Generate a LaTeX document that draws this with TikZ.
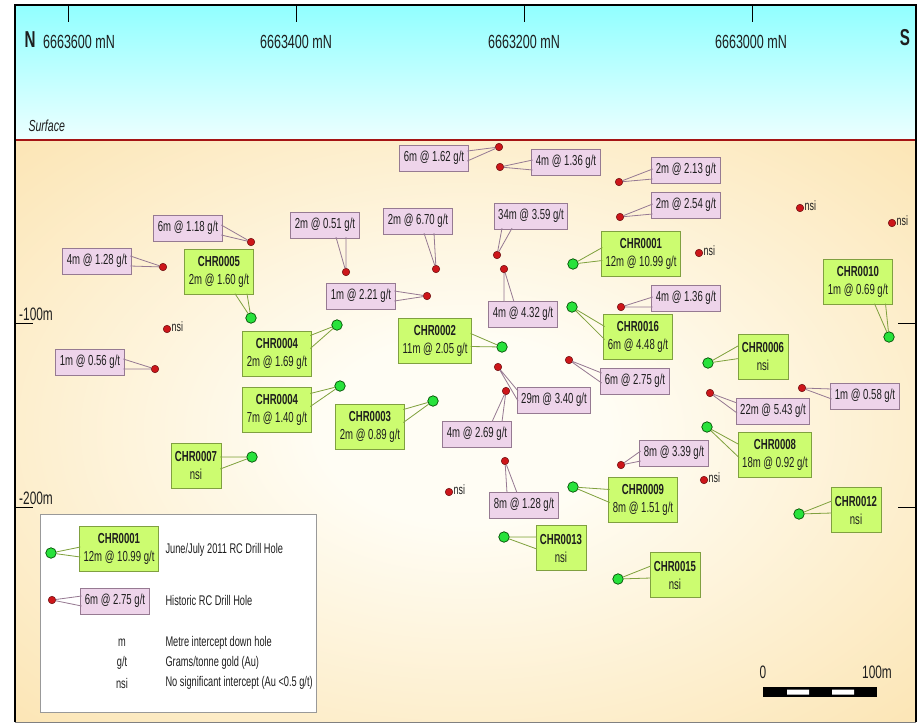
\documentclass[tikz,border=0pt]{standalone}
\usepackage{fontspec}
\setmainfont{Liberation Sans}[FakeStretch=0.66]
\usetikzlibrary{calc}

\definecolor{skytop}{RGB}{145,255,255}
\definecolor{skylow}{RGB}{236,255,255}
\definecolor{groundin}{RGB}{255,253,244}
\definecolor{groundout}{RGB}{249,210,130}
\definecolor{surfred}{RGB}{165,20,20}
\definecolor{histfill}{RGB}{238,212,234}
\definecolor{histedge}{RGB}{150,122,146}
\definecolor{newfill}{RGB}{204,252,112}
\definecolor{newedge}{RGB}{128,160,64}
\definecolor{reddot}{RGB}{205,22,26}
\definecolor{greendot}{RGB}{40,226,60}
\definecolor{txt}{RGB}{30,30,30}

\pgfdeclareradialshading{groundglow}{\pgfpoint{0bp}{0bp}}{color(0bp)=(groundin); color(8bp)=(groundin); color(58bp)=(groundout); color(80bp)=(groundout)}

% wedge of a callout: fill, edge, box anchor, shift, half width, hole
\newcommand\callout[6]{%
  \fill[#1] ($(#3)+(#4)+(#5)$) -- (#6) -- ($(#3)+(#4)-(#5)$) -- cycle;
  \draw[#2, line width=0.8pt] ($(#3)+(#4)+(#5)$) -- (#6) -- ($(#3)+(#4)-(#5)$);}

\tikzset{
  hole/.style={circle, draw=reddot!50!black, fill=reddot, inner sep=0pt, minimum size=7.5pt, line width=0.5pt},
  newhole/.style={circle, draw=green!30!black, fill=greendot, inner sep=0pt, minimum size=10.5pt, line width=0.7pt},
  histbox/.style={draw=histedge, fill=histfill, line width=0.8pt, inner xsep=4pt, inner ysep=0pt, minimum height=26pt, text=txt, font=\fontsize{14.5}{16}\selectfont},
  newbox/.style={draw=newedge, fill=newfill, line width=0.8pt, inner xsep=4pt, inner ysep=0pt, minimum height=45pt, align=center, text=txt, font=\fontsize{14.5}{18}\selectfont},
  nsilab/.style={anchor=west, inner sep=0.5pt, text=txt, font=\fontsize{13.5}{13}\selectfont},
  hdr/.style={text=txt, font=\fontsize{19}{19}\selectfont},
  legtext/.style={anchor=west, text=txt, font=\fontsize{14}{16}\selectfont}
}

\begin{document}
\begin{tikzpicture}[x=1pt, y=-1pt]
\useasboundingbox (0,0) rectangle (918,726);
\fill[white] (0,0) rectangle (918,726);

% sky and ground
\shade[top color=skytop, bottom color=skylow] (15,5) rectangle (916,140);
\shade[shading=groundglow] (15,140) rectangle (916,722);
\draw[surfred, line width=2pt] (15,140) -- (916,140);
\draw[gray, line width=1pt] (15,722) -- (916,722);
\draw[line width=2.5pt] (15,722) -- (15,5) -- (916,5) -- (916,722);

% northings
\foreach \x in {68,296,524,752}
  \draw[line width=0.7pt] (\x,5) -- (\x,22);
\node[hdr] (n6600) at (79,42) {6663600 mN};
\node[hdr] (n6400) at (296,42) {6663400 mN};
\node[hdr] (n6200) at (524,42) {6663200 mN};
\node[hdr] (n6000) at (751,42) {6663000 mN};
\node[text=txt, font=\fontsize{23}{23}\selectfont\bfseries] (north) at (30,40) {N};
\node[text=txt, font=\fontsize{23}{23}\selectfont\bfseries] (south) at (905,38) {S};
\node[anchor=base west, text=txt, font=\fontsize{16}{16}\selectfont\itshape] (surf) at (25,131) {Surface};

% depth ticks
\draw[line width=1pt] (15,323) -- (33,323) (15,507) -- (33,507);
\draw[line width=1pt] (898,323) -- (916,323) (898,507) -- (916,507);
\node[anchor=base west, inner sep=0pt, text=txt, font=\fontsize{18}{18}\selectfont] (d100) at (19,320) {-100m};
\node[anchor=base west, inner sep=0pt, text=txt, font=\fontsize{18}{18}\selectfont] (d200) at (19,504) {-200m};

% historic holes
\node[hole] (h1) at (499,147) {};
\node[hole] (h2) at (500,167) {};
\node[hole] (h3) at (619,182) {};
\node[hole] (h4) at (620,217) {};
\node[hole] (h5) at (251,242) {};
\node[hole] (h6) at (163,267) {};
\node[hole] (h7) at (346,272) {};
\node[hole] (h8) at (436,269) {};
\node[hole] (h9) at (497,255) {};
\node[hole] (h10) at (427,296) {};
\node[hole] (h11) at (504,269) {};
\node[hole] (h12) at (621,307) {};
\node[hole] (h13) at (155,369) {};
\node[hole] (h14) at (569,360) {};
\node[hole] (h15) at (498,367) {};
\node[hole] (h16) at (710,393) {};
\node[hole] (h17) at (802,388) {};
\node[hole] (h18) at (506,391) {};
\node[hole] (h19) at (621,465) {};
\node[hole] (h20) at (505,461) {};

\node[histbox] (p1) at (434,158) {6m @ 1.62 g/t};
\node[histbox] (p2) at (566,162) {4m @ 1.36 g/t};
\node[histbox] (p3) at (686,170) {2m @ 2.13 g/t};
\node[histbox] (p4) at (686,205) {2m @ 2.54 g/t};
\node[histbox] (p5) at (188,228) {6m @ 1.18 g/t};
\node[histbox] (p6) at (97,261) {4m @ 1.28 g/t};
\node[histbox] (p7) at (325,225) {2m @ 0.51 g/t};
\node[histbox] (p8) at (418,221) {2m @ 6.70 g/t};
\node[histbox] (p9) at (531,216) {34m @ 3.59 g/t};
\node[histbox] (p10) at (361,296) {1m @ 2.21 g/t};
\node[histbox] (p11) at (523,314) {4m @ 4.32 g/t};
\node[histbox] (p12) at (686,298) {4m @ 1.36 g/t};
\node[histbox] (p13) at (90,362) {1m @ 0.56 g/t};
\node[histbox] (p14) at (635,381) {6m @ 2.75 g/t};
\node[histbox] (p15) at (554,400) {29m @ 3.40 g/t};
\node[histbox] (p16) at (773,411) {22m @ 5.43 g/t};
\node[histbox] (p17) at (865,396) {1m @ 0.58 g/t};
\node[histbox] (p18) at (477,434) {4m @ 2.69 g/t};
\node[histbox] (p19) at (674,453) {8m @ 3.39 g/t};
\node[histbox] (p20) at (524,505) {8m @ 1.28 g/t};

% historic holes without intercept
\node[hole] (hn1) at (167,329) {};
\node[hole] (hn2) at (699,253) {};
\node[hole] (hn3) at (800,208) {};
\node[hole] (hn4) at (892,223) {};
\node[hole] (hn5) at (704,480) {};
\node[hole] (hn6) at (449,492) {};
\foreach \n in {1,...,6}
  \node[nsilab] (hn\n l) at ([yshift=2pt]hn\n.east) {nsi};

% 2011 holes
\node[newhole] (c01) at (573,264) {};
\node[newhole] (c05) at (251,318) {};
\node[newhole] (c10) at (889,337) {};
\node[newhole] (c16) at (572,307) {};
\node[newhole] (c04a) at (337,325) {};
\node[newhole] (c02) at (502,347) {};
\node[newhole] (c06) at (708,363) {};
\node[newhole] (c04b) at (340,386) {};
\node[newhole] (c03) at (433,401) {};
\node[newhole] (c08) at (707,427) {};
\node[newhole] (c07) at (252,457) {};
\node[newhole] (c09) at (573,487) {};
\node[newhole] (c12) at (799,514) {};
\node[newhole] (c13) at (504,537) {};
\node[newhole] (c15) at (618,579) {};

\node[newbox] (b01) at (641,254) {\textbf{CHR0001}\\12m @ 10.99 g/t};
\node[newbox] (b05) at (219,272) {\textbf{CHR0005}\\2m @ 1.60 g/t};
\node[newbox] (b10) at (858,282) {\textbf{CHR0010}\\1m @ 0.69 g/t};
\node[newbox] (b16) at (638,337) {\textbf{CHR0016}\\6m @ 4.48 g/t};
\node[newbox] (b04a) at (277,354) {\textbf{CHR0004}\\2m @ 1.69 g/t};
\node[newbox] (b02) at (435,341) {\textbf{CHR0002}\\11m @ 2.05 g/t};
\node[newbox] (b06) at (763,357) {\textbf{CHR0006}\\nsi};
\node[newbox] (b04b) at (277,410) {\textbf{CHR0004}\\7m @ 1.40 g/t};
\node[newbox] (b03) at (370,427) {\textbf{CHR0003}\\2m @ 0.89 g/t};
\node[newbox] (b08) at (775,455) {\textbf{CHR0008}\\18m @ 0.92 g/t};
\node[newbox] (b07) at (196,466) {\textbf{CHR0007}\\nsi};
\node[newbox] (b09) at (643,500) {\textbf{CHR0009}\\8m @ 1.51 g/t};
\node[newbox] (b12) at (856,510) {\textbf{CHR0012}\\nsi};
\node[newbox] (b13) at (561,548) {\textbf{CHR0013}\\nsi};
\node[newbox] (b15) at (675,575) {\textbf{CHR0015}\\nsi};

% callout wedges
\callout{histfill}{histedge}{p1.east}{-1.2,-2}{0,5}{h1}
\callout{histfill}{histedge}{p2.west}{1.2,3}{0,5}{h2}
\callout{histfill}{histedge}{p3.west}{1.2,4}{0,5}{h3}
\callout{histfill}{histedge}{p4.west}{1.2,4}{0,5}{h4}
\callout{histfill}{histedge}{p5.east}{-1.2,2}{0,5}{h5}
\callout{histfill}{histedge}{p6.east}{-1.2,0}{0,5}{h6}
\callout{histfill}{histedge}{p7.south}{16,-1.2}{5,0}{h7}
\callout{histfill}{histedge}{p8.south}{11,-1.2}{5,0}{h8}
\callout{histfill}{histedge}{p9.south}{-24,-1.2}{5,0}{h9}
\callout{histfill}{histedge}{p10.east}{-1.2,0}{0,5}{h10}
\callout{histfill}{histedge}{p11.north}{-14,1.2}{5,0}{h11}
\callout{histfill}{histedge}{p12.west}{1.2,4}{0,5}{h12}
\callout{histfill}{histedge}{p13.east}{-1.2,2}{0,5}{h13}
\callout{histfill}{histedge}{p14.west}{1.2,-3}{0,5}{h14}
\callout{histfill}{histedge}{p15.west}{1.2,-4}{0,5}{h15}
\callout{histfill}{histedge}{p16.west}{1.2,-3}{0,5}{h16}
\callout{histfill}{histedge}{p17.west}{1.2,-2}{0,5}{h17}
\callout{histfill}{histedge}{p18.north}{20,1.2}{5,0}{h18}
\callout{histfill}{histedge}{p19.west}{1.2,3}{0,5}{h19}
\callout{histfill}{histedge}{p20.north}{-12,1.2}{5,0}{h20}

\callout{newfill}{newedge}{b01.west}{1.2,0}{0,6.5}{c01}
\callout{newfill}{newedge}{b05.south}{22,-1.2}{6,0}{c05}
\callout{newfill}{newedge}{b10.south}{22,-1.2}{5.5,0}{c10}
\callout{newfill}{newedge}{b16.west}{1.2,-4}{0,6.5}{c16}
\callout{newfill}{newedge}{b04a.east}{-1.2,-12}{0,6.5}{c04a}
\callout{newfill}{newedge}{b02.east}{-1.2,-1}{0,6.5}{c02}
\callout{newfill}{newedge}{b06.west}{1.2,-5}{0,6.5}{c06}
\callout{newfill}{newedge}{b04b.east}{-1.2,-10}{0,6.5}{c04b}
\callout{newfill}{newedge}{b03.east}{-1.2,-11}{0,6.5}{c03}
\callout{newfill}{newedge}{b08.west}{1.2,-4}{0,6.5}{c08}
\callout{newfill}{newedge}{b07.east}{-1.2,-3}{0,6}{c07}
\callout{newfill}{newedge}{b09.west}{1.2,-4}{0,6.5}{c09}
\callout{newfill}{newedge}{b12.west}{1.2,-3}{0,6}{c12}
\callout{newfill}{newedge}{b13.west}{1.2,-5}{0,6}{c13}
\callout{newfill}{newedge}{b15.west}{1.2,-3}{0,6}{c15}

% legend
\draw[fill=white, draw=gray!80, line width=0.8pt] (40,514) rectangle (316,712);
\node[newhole] (lgc) at (51,553) {};
\node[newbox] (lgb) at (119,549) {\textbf{CHR0001}\\12m @ 10.99 g/t};
\callout{newfill}{newedge}{lgb.west}{1.2,3}{0,5}{lgc}
\node[hole] (lgh) at (52,600) {};
\node[histbox] (lgp) at (115,601) {6m @ 2.75 g/t};
\callout{histfill}{histedge}{lgp.west}{1.2,0}{0,5}{lgh}
\node[legtext] (lt1) at (162,550) {June/July 2011 RC Drill Hole};
\node[legtext] (lt2) at (162,600) {Historic RC Drill Hole};
\node[legtext] (lt3) at (162,643) {Metre intercept down hole};
\node[legtext] (lt4) at (162,663) {Grams/tonne gold (Au)};
\node[legtext] (lt5) at (162,683) {No significant intercept (Au <0.5 g/t)};
\node[text=txt, font=\fontsize{14}{16}\selectfont] (lk3) at (122,643) {m};
\node[text=txt, font=\fontsize{14}{16}\selectfont] (lk4) at (122,663) {g/t};
\node[text=txt, font=\fontsize{14}{16}\selectfont] (lk5) at (122,683) {nsi};

% scale bar
\fill[black] (763,687) rectangle (877,697);
\fill[white] (787,689.5) rectangle (809,694.5) (832,689.5) rectangle (854,694.5);
\node[text=txt, font=\fontsize{18}{18}\selectfont] (s0) at (763,672) {0};
\node[text=txt, font=\fontsize{18}{18}\selectfont] (s100) at (877,672) {100m};
\end{tikzpicture}
\end{document}
